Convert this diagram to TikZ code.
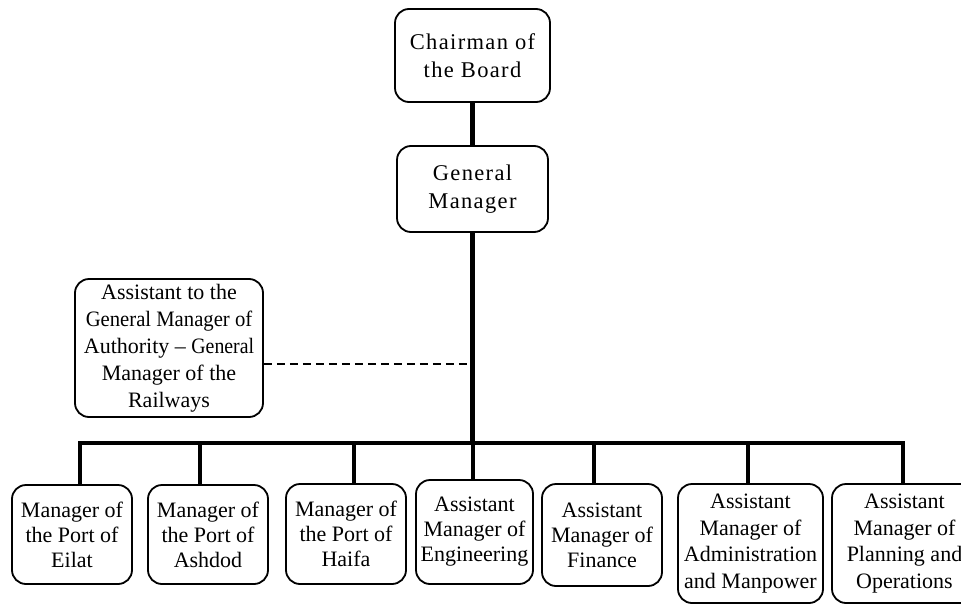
\documentclass[tikz,border=0pt]{standalone}
\usepackage{fontspec}
\setmainfont{Liberation Serif}
\newfontfamily\spaced[LetterSpace=6]{Liberation Serif}
\begin{document}
\begin{tikzpicture}[x=1pt,y=-1pt,
  box/.style={draw,line width=1.8pt,rounded corners=14pt,align=center,inner sep=0pt,
    font=\fontsize{22}{25}\selectfont},
  bigbox/.style={box,font=\spaced\fontsize{22.5}{28}\selectfont},
  thick line/.style={line width=4.5pt},
  dash line/.style={line width=2pt,dash pattern=on 8pt off 5pt}]
\useasboundingbox (0,0) rectangle (961,605);
\clip (0,0) rectangle (961,605);
\node[bigbox,minimum width=155pt,minimum height=93pt] (ch) at (472.5,55.5) {Chairman of\\the Board};
\node[bigbox,minimum width=151pt,minimum height=86pt] (gm) at (472.5,189) {General\\Manager};
\node[box,minimum width=188pt,minimum height=138pt,font=\fontsize{22}{27}\selectfont] (as) at (169,348)
  {Assistant to the\\{\addfontfeature{FakeStretch=0.94}General Manager of}\\Authority -- {\addfontfeature{FakeStretch=0.9}General}\\Manager of the\\Railways};
\node[box,minimum width=120pt,minimum height=99pt] (b1) at (72,534.5) {Manager of\\the Port of\\Eilat};
\node[box,minimum width=120pt,minimum height=99pt] (b2) at (208,534.5) {Manager of\\the Port of\\Ashdod};
\node[box,minimum width=120pt,minimum height=100pt] (b3) at (346,534) {Manager of\\the Port of\\Haifa};
\node[box,minimum width=117pt,minimum height=104pt] (b4) at (474.5,532) {Assistant\\Manager of\\Engineering};
\node[box,minimum width=120pt,minimum height=102pt] (b5) at (602,535) {Assistant\\Manager of\\Finance};
\node[box,minimum width=145pt,minimum height=119pt,font=\fontsize{22}{26.5}\selectfont] (b6) at (750.5,543.5) {Assistant\\Manager of\\Administration\\and Manpower};
\node[box,minimum width=145pt,minimum height=119pt,font=\fontsize{22}{26.5}\selectfont] (b7) at (904.5,543.5) {Assistant\\Manager of\\Planning and\\Operations};
\coordinate (bus) at (472.5,443);
\draw[thick line] (ch) -- (gm);
\draw[thick line] (gm) -- (bus);
\draw[dash line] ([yshift=-16pt]as.east) -- ([yshift=-16pt]as.east -| gm.south);
\draw[thick line,line join=miter] ([xshift=8pt]b1.north) -- ([xshift=8pt]b1.north |- bus)
  -- ([xshift=-1.5pt]b7.north |- bus) -- ([xshift=-1.5pt]b7.north);
\draw[thick line] ([xshift=-8pt]b2.north) -- ([xshift=-8pt]b2.north |- bus);
\draw[thick line] ([xshift=8pt]b3.north) -- ([xshift=8pt]b3.north |- bus);
\draw[thick line] ([xshift=-1.5pt]b4.north) -- ([xshift=-1.5pt]b4.north |- bus);
\draw[thick line] ([xshift=-8pt]b5.north) -- ([xshift=-8pt]b5.north |- bus);
\draw[thick line] ([xshift=-2.5pt]b6.north) -- ([xshift=-2.5pt]b6.north |- bus);
\end{tikzpicture}
\end{document}
